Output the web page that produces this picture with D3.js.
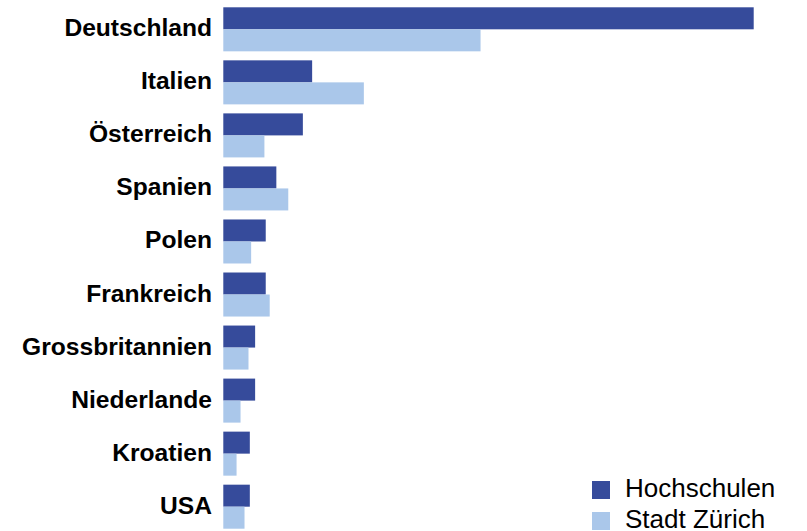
<!DOCTYPE html>
<html>
<head>
<meta charset="utf-8">
<script src="https://cdn.jsdelivr.net/npm/d3@7"></script>
<style>
  body { margin: 0; background: #fff; }
  svg { display: block; font-family: "Liberation Sans", Arial, Helvetica, sans-serif; }
  .label { font-weight: bold; font-size: 24.6px; fill: #000; }
  .legend text { font-size: 26px; fill: #000; }
</style>
</head>
<body>
<svg id="chart" width="807" height="531"></svg>
<script>

// data (share in %)
const countries = ['Deutschland', 'Italien', 'Österreich', 'Spanien', 'Polen', 'Frankreich', 'Grossbritannien', 'Niederlande', 'Kroatien', 'USA'];
const hochschulen = [40.0, 6.7, 6.0, 4.0, 3.2, 3.2, 2.4, 2.4, 2.0, 2.0];
const stadtZuerich = [19.4, 10.6, 3.1, 4.9, 2.1, 3.5, 1.9, 1.3, 1.0, 1.6];
const seriesNames = ['Hochschulen', 'Stadt Zürich'];
const colors = ['#364b9b', '#aac7ea'];

const width = 807;
const height = 531;

const svg = d3.select('#chart');

const x = d3.scaleLinear()
	.domain([0, 40])
	.range([223.3, 753.7]);

const y = d3.scaleBand()
	.domain(countries)
	.range([7.3, 528.7])
	.paddingInner(0.17)
	.paddingOuter(0);

const ySub = d3.scaleBand()
	.domain(seriesNames)
	.range([0, y.bandwidth()]);

const rows = countries.map((c, i) => ({
	country: c,
	values: [
		{ series: seriesNames[0], value: hochschulen[i] },
		{ series: seriesNames[1], value: stadtZuerich[i] }
	]
}));

let groups = svg.append('g')
	.selectAll('g')
	.data(rows)
	.enter()
	.append('g')
	.attr('transform', d => `translate(0,${y(d.country)})`);

groups.selectAll('rect')
	.data(d => d.values)
	.enter()
	.append('rect')
	.attr('x', x(0))
	.attr('y', d => ySub(d.series))
	.attr('width', d => x(d.value) - x(0))
	.attr('height', ySub.bandwidth())
	.attr('fill', (d, i) => colors[i]);

// category labels
svg.append('g')
	.selectAll('text')
	.data(countries)
	.enter()
	.append('text')
	.attr('class', 'label')
	.attr('x', 212)
	.attr('y', d => y(d) + y.bandwidth() / 2 + 7)
	.attr('text-anchor', 'end')
	.text(d => d);

// legend
let legend = svg.append('g')
	.attr('class', 'legend')
	.attr('transform', 'translate(592,481)');

let items = legend.selectAll('g')
	.data(seriesNames)
	.enter()
	.append('g')
	.attr('transform', (d, i) => `translate(0,${i * 31})`);

items.append('rect')
	.attr('width', 18)
	.attr('height', 18)
	.attr('fill', (d, i) => colors[i]);

items.append('text')
	.attr('x', 33)
	.attr('y', 16)
	.text(d => d);

</script>
</body>
</html>
